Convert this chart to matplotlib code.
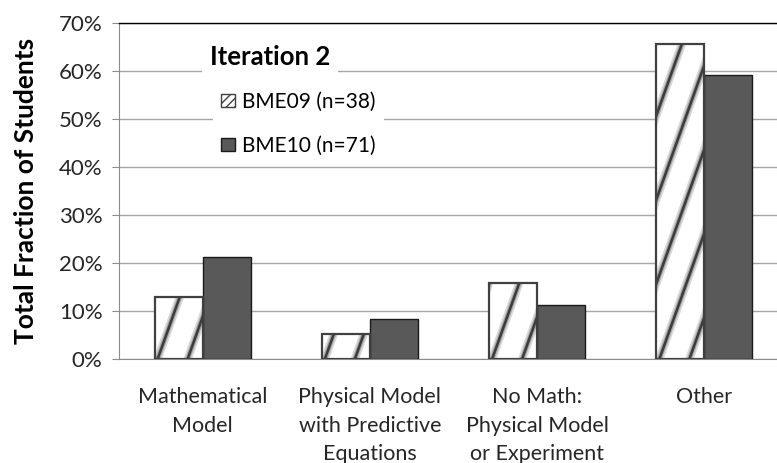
import numpy as np
import matplotlib
matplotlib.use("Agg")
import matplotlib.pyplot as plt
from matplotlib.patches import Patch
from matplotlib.ticker import PercentFormatter

categories = ["Mathematical\nModel",
              "Physical Model\nwith Predictive\nEquations",
              "No Math:\nPhysical Model\nor Experiment",
              "Other"]
bme09 = [13.0, 5.2, 15.8, 65.6]   # % of students
bme10 = [21.2, 8.3, 11.3, 59.1]
series_names = ["BME09 (n=38)", "BME10 (n=71)"]
legend_title = "Iteration 2"

plt.rcParams['font.family'] = ['Lato', 'DejaVu Sans']

W, H = 777, 463
fig = plt.figure(figsize=(W / 100, H / 100), dpi=100)
ax = fig.add_axes([119 / W, 104 / H, 669 / W, 336 / H])

x = np.arange(len(categories))
w = 0.287
dark = '#595959'

bars09 = ax.bar(x - w / 2, bme09, w, color='white', linewidth=0, zorder=3)
bars10 = ax.bar(x + w / 2, bme10, w, color=dark, edgecolor='#1a1a1a', linewidth=1, zorder=3)

ax.set_xlim(-0.5, len(categories) - 0.5)
ax.set_ylim(0, 70)
ax.set_yticks(np.arange(0, 71, 10))
ax.yaxis.set_major_formatter(PercentFormatter(decimals=0))


def add_stripes(rect, dx=30, slope=2.8, offset=3):
    # steep diagonal stripes clipped to the bar, laid out in pixel space
    (x0, y0) = ax.transData.transform((rect.get_x(), rect.get_y()))
    (x1, y1) = ax.transData.transform((rect.get_x() + rect.get_width(),
                                       rect.get_y() + rect.get_height()))
    h = y1 - y0
    run = h / slope
    start = x0 + offset - dx * np.ceil(run / dx)
    inv = ax.transData.inverted()
    for sx in np.arange(start, x1, dx):
        pts = inv.transform([(sx, y0), (sx + run, y1)])
        for lw, a in [(6, 0.18), (3.5, 0.3), (1.8, 0.85)]:
            ln, = ax.plot(pts[:, 0], pts[:, 1], color='#2a2a2a', lw=lw, alpha=a,
                          zorder=3.2, solid_capstyle='butt')
            ln.set_clip_path(rect)


for r in bars09:
    add_stripes(r)
# outline on top of the stripes
ax.bar(x - w / 2, bme09, w, fill=False, edgecolor='#404040', linewidth=1.6, zorder=3.4)

ax.yaxis.grid(True, color='#a6a6a6', linewidth=1, zorder=0)
ax.set_axisbelow(True)

ax.spines['right'].set_visible(False)
ax.spines['top'].set_color('black')
ax.spines['top'].set_linewidth(1)
ax.spines['left'].set_color('#8c8c8c')
ax.spines['bottom'].set_color('#8c8c8c')

ax.tick_params(axis='y', direction='out', length=5, color='#8c8c8c',
               labelsize=16, labelcolor='#262626', pad=7)
ax.tick_params(axis='x', length=0, labelsize=15.5, labelcolor='#262626', pad=20)
ax.set_xticks(x)
ax.set_xticklabels(categories, linespacing=1.55)

ax.set_ylabel("Total Fraction of Students", fontsize=19, fontweight='bold',
              color='black', labelpad=15)

handles = [Patch(facecolor='white', edgecolor='#404040', hatch='////', label=series_names[0]),
           Patch(facecolor=dark, edgecolor='#1a1a1a', label=series_names[1])]
leg = ax.legend(handles=handles, loc='upper left', bbox_to_anchor=(0.125, 0.851),
                fontsize=15, handlelength=0.65, handleheight=0.65, handletextpad=0.35,
                labelspacing=1.15, borderpad=0.4, frameon=True, fancybox=False)
leg.get_frame().set_facecolor('white')
leg.get_frame().set_edgecolor('none')
leg.get_frame().set_alpha(1)
leg.set_zorder(5)

ax.text(0.2257, 0.899, legend_title, transform=ax.transAxes, ha='center', va='center',
        fontsize=18.5, fontweight='bold', zorder=6,
        bbox=dict(facecolor='white', edgecolor='none', pad=6))

fig.savefig("out.png", dpi=100)
